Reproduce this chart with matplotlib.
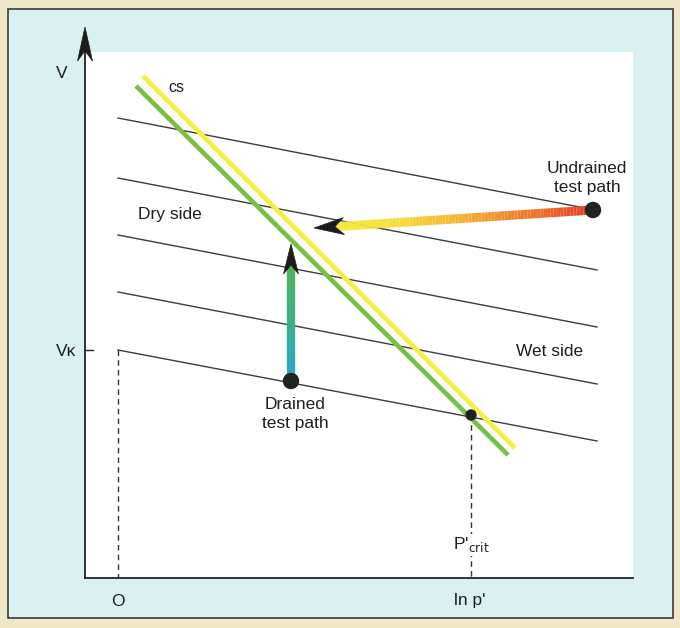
import numpy as np
import matplotlib.pyplot as plt
from matplotlib.collections import LineCollection
from matplotlib.colors import LinearSegmentedColormap
from matplotlib.patches import Rectangle, Polygon, Circle

plt.rcParams['font.family'] = ['Liberation Sans', 'DejaVu Sans']

# kappa (swelling) lines, start / end points (pixel units, y down)
kappa_x0 = [118, 118, 118, 118, 118]
kappa_y0 = [118, 178, 235, 292, 350]
kappa_x1 = [595, 597, 597, 597, 597]
kappa_y1 = [210, 270, 327, 384, 441]

# critical state lines
cs_yellow = [(143, 76), (515, 448)]
cs_green = [(136, 86), (508, 455)]

# test paths
undrained_start = (593, 210)
undrained_end = (314, 228)
drained_start = (291, 381)
drained_end = (291, 244)
crit_point = (471, 415)
v_kappa = 350

fig = plt.figure(figsize=(6.8, 6.28), dpi=100)
fig.patch.set_facecolor('#eee8c6')
ax = fig.add_axes([0, 0, 1, 1])
ax.set_xlim(0, 680)
ax.set_ylim(628, 0)
ax.axis('off')

# panel frame and white plot area
ax.add_patch(Rectangle((8, 9), 665, 609, facecolor='#d9f1f1', edgecolor='#3a3a3a', lw=1.2, zorder=0))
ax.add_patch(Rectangle((85, 52), 548, 526, facecolor='white', edgecolor='none', zorder=0.5))


def stealth(tip, direction, length, width, color='#1c1c1c'):
    d = np.array(direction, float)
    d = d / np.hypot(*d)
    n = np.array([-d[1], d[0]])
    tip = np.array(tip, float)
    back = tip - d * length
    notch = tip - d * length * 0.7
    pts = [tip, back + n * width / 2, notch, back - n * width / 2]
    ax.add_patch(Polygon(pts, closed=True, facecolor=color, edgecolor=color, lw=0.5, zorder=6))


def gradient_line(p0, p1, colors, lw):
    t = np.linspace(0, 1, 80)
    xs = p0[0] + (p1[0] - p0[0]) * t
    ys = p0[1] + (p1[1] - p0[1]) * t
    pts = np.column_stack([xs, ys]).reshape(-1, 1, 2)
    segs = np.concatenate([pts[:-1], pts[1:]], axis=1)
    cmap = LinearSegmentedColormap.from_list('g', colors)
    lc = LineCollection(segs, colors=cmap(t[:-1]), linewidths=lw, capstyle='butt', zorder=4)
    ax.add_collection(lc)


# axes
ax.plot([85, 85], [578, 45], color='#222222', lw=1.3, zorder=5)
stealth((85, 27), (0, -1), 34, 15)
ax.plot([85, 633], [578, 578], color='#222222', lw=1.3, zorder=5)
ax.plot([85, 93], [v_kappa, v_kappa], color='#222222', lw=1.0, zorder=5)

# dashed guides
ax.plot([118, 118], [v_kappa, 578], color='#333333', lw=1.0, ls=(0, (4, 3)), zorder=2)
ax.plot([crit_point[0], crit_point[0]], [crit_point[1], 578], color='#333333', lw=1.0, ls=(0, (4, 3)), zorder=2)

# kappa lines
for x0, y0, x1, y1 in zip(kappa_x0, kappa_y0, kappa_x1, kappa_y1):
    ax.plot([x0, x1], [y0, y1], color='#3c3c3c', lw=1.0, zorder=2)

# critical state lines
ax.plot(*zip(*cs_yellow), color='#f6ee3c', lw=3.3, solid_capstyle='butt', zorder=3)
ax.plot(*zip(*cs_green), color='#78c043', lw=3.3, solid_capstyle='butt', zorder=3)

# undrained path: red -> orange -> yellow
gradient_line(undrained_start, (undrained_end[0] + 20, undrained_end[1] - 1.3),
              ['#e63d2a', '#ef7a2b', '#f3b132', '#f6de3a', '#f7e93c'], 6.5)
stealth(undrained_end, (undrained_end[0] - undrained_start[0], undrained_end[1] - undrained_start[1]), 30, 17)

# drained path: blue -> green
gradient_line(drained_start, (drained_end[0], drained_end[1] + 22),
              ['#2aa6d0', '#3fae8a', '#52b25a'], 6)
stealth(drained_end, (0, -1), 30, 15)

# points
for (px, py), r in [(undrained_start, 7.5), (drained_start, 7.5), (crit_point, 5)]:
    ax.add_patch(Circle((px, py), r, facecolor='#222222', edgecolor='#222222', zorder=7))

# labels
fs = 12.5
tc = '#1e1e1e'
ax.text(62, 73, 'V', fontsize=fs, ha='center', va='center', color=tc)
ax.text(176, 88, 'cs', fontsize=fs - 1, ha='center', va='center', color=tc)
ax.text(66, 351, 'V\u03ba', fontsize=fs, ha='center', va='center', color=tc)
ax.text(587, 178, 'Undrained\ntest path', fontsize=fs, ha='center', va='center', linespacing=1.3, color=tc)
ax.text(170, 215, 'Dry side', fontsize=fs, ha='center', va='center', color=tc)
ax.text(550, 351, 'Wet side', fontsize=fs, ha='center', va='center', color=tc)
ax.text(295, 414, 'Drained\ntest path', fontsize=fs, ha='center', va='center', linespacing=1.3, color=tc)
ax.text(118, 601, 'O', fontsize=fs, ha='center', va='center', color=tc)
ax.text(470, 601, "ln p'", fontsize=fs, ha='center', va='center', color=tc)
ax.text(471, 545, "P'$_{\\mathrm{crit}}$", fontsize=fs, ha='center', va='center', color=tc,
        bbox=dict(facecolor='white', edgecolor='none', pad=1))

fig.savefig('out.png', dpi=100, facecolor=fig.get_facecolor())
